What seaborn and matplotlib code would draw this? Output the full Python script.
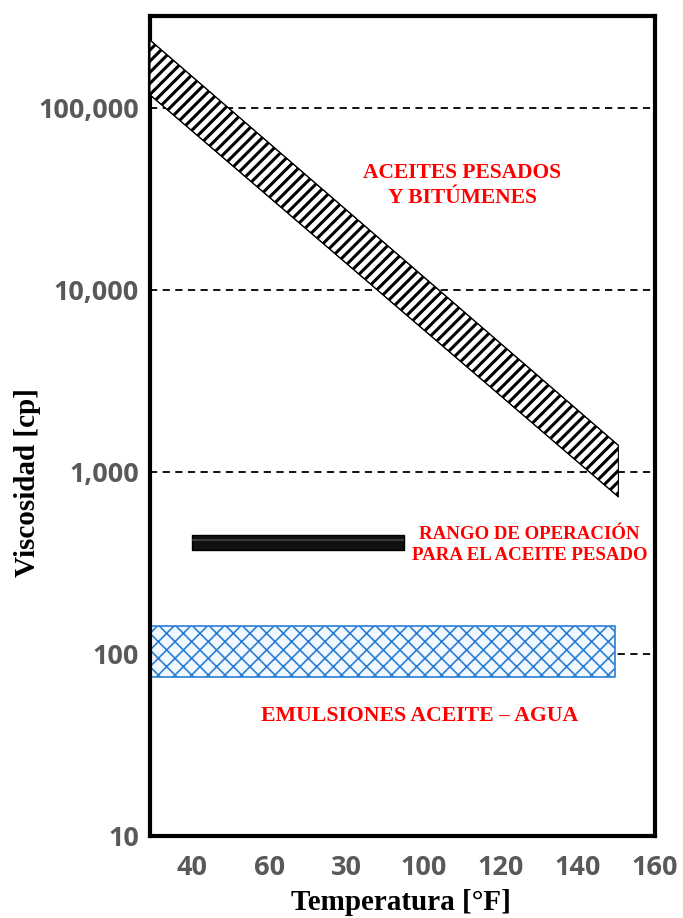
import matplotlib
matplotlib.use("Agg")
import matplotlib.pyplot as plt
import seaborn as sns
import pandas as pd

# --- data -------------------------------------------------------------
# Heavy oils / bitumen viscosity band (upper and lower edge vs temperature)
bitumen_temp = [29, 150.5]
bitumen_upper = [236000, 1400]
bitumen_lower = [118000, 730]

# Operating range for heavy oil
operating_temp = [40, 95]
operating_visc = [372, 451]

# Oil-water emulsions band
emulsion_temp = [29, 149.5]
emulsion_visc = [75, 143]

# Axes
x_ticks = [40, 60, 80, 100, 120, 140, 160]
x_ticklabels = ["40", "60", "30", "100", "120", "140", "160"]
y_ticks = [10, 100, 1000, 10000, 100000]
y_ticklabels = ["10", "100", "1,000", "10,000", "100,000"]
grid_levels = [100, 1000, 10000, 100000]

labels = {
    "bitumen": "ACEITES PESADOS\nY BITÚMENES",
    "operating": "RANGO DE OPERACIÓN\nPARA EL ACEITE PESADO",
    "emulsion": "EMULSIONES ACEITE – AGUA",
}

# --- style ------------------------------------------------------------
sns.set_theme(style="white")
plt.rcParams["font.family"] = ["DejaVu Sans"]

fig = plt.figure(figsize=(6.83, 9.18), dpi=100)
ax = fig.add_axes([150 / 683, 1 - 836 / 918, 505 / 683, 820 / 918])
ax.set_yscale("log")
ax.set_xlim(29, 160)
ax.set_ylim(10, 320000)

# dashed reference lines
for lvl in grid_levels:
    ax.axhline(lvl, color="black", ls=(0, (4, 3)), lw=1.3, zorder=1)

# bitumen band with diagonal stripes
with plt.rc_context({"hatch.linewidth": 2.2, "hatch.color": "black"}):
    ax.fill_between(bitumen_temp, bitumen_lower, bitumen_upper,
                    facecolor="white", edgecolor="black", hatch="///",
                    linewidth=0.8, zorder=3)
band = pd.DataFrame({"T": bitumen_temp * 2,
                     "mu": bitumen_upper + bitumen_lower,
                     "edge": ["up", "up", "lo", "lo"]})
sns.lineplot(data=band, x="T", y="mu", units="edge", estimator=None,
             color="black", lw=0.8, ax=ax, zorder=4, legend=False)

# emulsion band with blue cross hatch
with plt.rc_context({"hatch.linewidth": 1.2, "hatch.color": "#3a8ad8"}):
    ax.fill_between(emulsion_temp, [emulsion_visc[0]] * 2, [emulsion_visc[1]] * 2,
                    facecolor="#f2f8ff", edgecolor="#2a7fd4", hatch="xx",
                    linewidth=1.2, zorder=2)

# operating range bar
ax.fill_between(operating_temp, [operating_visc[0]] * 2, [operating_visc[1]] * 2,
                facecolor="#111111", edgecolor="#000000", linewidth=1.0, zorder=5)
mid = (operating_visc[0] * operating_visc[1]) ** 0.5
ax.plot(operating_temp, [mid * 1.03, mid * 1.03], color="#3a3a3a", lw=1.5,
        zorder=6, solid_capstyle="butt")

# annotations
red_font = dict(color="#ff0000", fontweight="bold", family="Liberation Serif",
                ha="center", va="center")
ax.text(0.618, 0.793, labels["bitumen"], transform=ax.transAxes, fontsize=15.5,
        linespacing=1.35, **red_font)
ax.text(0.752, 0.355, labels["operating"], transform=ax.transAxes, fontsize=13.6,
        linespacing=1.35, **red_font)
ax.text(0.533, 0.146, labels["emulsion"], transform=ax.transAxes, fontsize=15.7,
        **red_font)

# ticks
ax.set_xticks(x_ticks)
ax.set_xticklabels(x_ticklabels)
ax.set_yticks(y_ticks)
ax.set_yticklabels(y_ticklabels)
ax.minorticks_off()
ax.tick_params(axis="both", length=0, labelcolor="#595959", labelsize=19.5)
ax.tick_params(axis="x", pad=14)
ax.tick_params(axis="y", pad=8)
for lab in ax.get_xticklabels() + ax.get_yticklabels():
    lab.set_fontfamily("Open Sans")
    lab.set_fontweight("bold")

for side in ax.spines.values():
    side.set_visible(True)
    side.set_color("black")
    side.set_linewidth(3.0)

ax.set_xlabel("")
ax.set_ylabel("")
fig.text(401 / 683, 1 - 903 / 918, "Temperatura [°F]", ha="center", va="center",
         fontsize=21, fontweight="bold", family="Liberation Serif", color="black")
fig.text(28 / 683, 1 - 483 / 918, "Viscosidad [cp]", ha="center", va="center",
         rotation=90, fontsize=21, fontweight="bold", family="Liberation Serif",
         color="black")

fig.savefig("out.png", dpi=100, facecolor="white")
